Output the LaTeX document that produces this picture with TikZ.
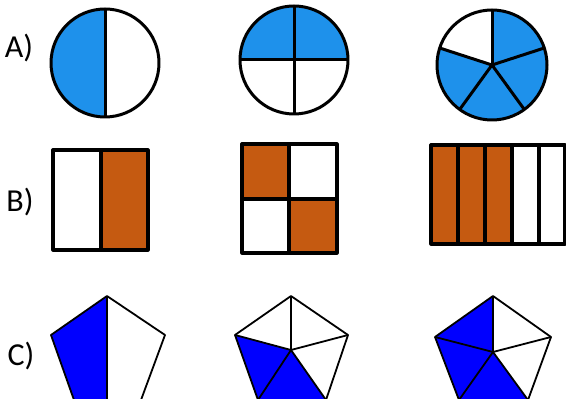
\documentclass[tikz,border=0pt]{standalone}
\usepackage{fontspec}
\setmainfont{Carlito}
\usepackage{tikz}
\usetikzlibrary{positioning}
\usepackage{xcolor}
\definecolor{skyblue}{RGB}{30,145,235}
\definecolor{rust}{RGB}{197,90,17}
\definecolor{deepblue}{RGB}{0,0,255}

\begin{document}
\begin{tikzpicture}[x=1pt, y=1pt, line join=round,
  disc/.style={draw=black, line width=3pt},
  box/.style={draw=black, line width=3.2pt},
  penta/.style={draw=black, line width=1.8pt},
  tag/.style={font=\fontsize{32}{32}\selectfont, inner sep=0pt}]
  \useasboundingbox (0,0) rectangle (566,399);

  % Define nodes
  \node[tag] (A) at (19,351) {A)};
  \node[tag] (B) at (20,197) {B)};
  \node[tag] (C) at (21,43) {C)};

  % Circles
  \coordinate (half) at (105,336);
  \coordinate (quart) at (294,339);
  \coordinate (pie) at (492,334);
  \fill[skyblue] (half) ++(90:54) arc (90:270:54) -- cycle;
  \draw[disc] (half) ++(0,54) -- ++(0,-108);
  \draw[disc] (half) circle (54);
  \fill[skyblue] (quart) ++(180:54) arc (180:0:54) -- cycle;
  \draw[disc] (quart) ++(-54,0) -- ++(108,0);
  \draw[disc] (quart) ++(0,54) -- ++(0,-108);
  \draw[disc] (quart) circle (54);
  \fill[skyblue] (pie) -- ++(90:55) arc (90:-198:55) -- cycle;
  \foreach \a in {90,18,-54,-126,162}
    \draw[disc] (pie) -- ++(\a:55);
  \draw[disc] (pie) circle (55);

  % Rectangles
  \fill[rust] (101,149) rectangle (148,249);
  \draw[box] (53,149) rectangle (148,249);
  \draw[box] (101,149) -- (101,249);
  \fill[rust] (242,200) rectangle (289,255);
  \fill[rust] (289,146) rectangle (337,200);
  \draw[box] (242,146) rectangle (337,255);
  \draw[box] (289,146) -- (289,255);
  \draw[box] (242,200) -- (337,200);
  \fill[rust] (431,155) rectangle (512,254);
  \draw[box] (431,155) rectangle (565,254);
  \foreach \x in {458,485,512,539}
    \draw[box] (\x,155) -- (\x,254);

  % Pentagons (bottom edge runs off the page)
  \coordinate (p1t) at (107,103);  \coordinate (p1l) at (51,64);
  \coordinate (p1r) at (165,64);   \coordinate (p1a) at (74,-1);
  \coordinate (p1b) at (141,-1);   \coordinate (p1m) at (107,-1);
  \fill[deepblue] (p1t) -- (p1l) -- (p1a) -- (p1m) -- cycle;
  \draw[penta] (p1t) -- (p1l) -- (p1a) -- (p1b) -- (p1r) -- cycle;
  \draw[penta] (p1t) -- (p1m);

  \coordinate (p2t) at (291,103);  \coordinate (p2l) at (235,64);
  \coordinate (p2r) at (348,64);   \coordinate (p2a) at (258,-1);
  \coordinate (p2b) at (326,-1);   \coordinate (p2c) at (291,49);
  \fill[deepblue] (p2c) -- (p2l) -- (p2a) -- (p2b) -- cycle;
  \draw[penta] (p2t) -- (p2l) -- (p2a) -- (p2b) -- (p2r) -- cycle;
  \foreach \v in {p2t,p2l,p2a,p2b,p2r}
    \draw[penta] (p2c) -- (\v);

  \coordinate (p3t) at (493,103);  \coordinate (p3l) at (435,62);
  \coordinate (p3r) at (551,62);   \coordinate (p3a) at (459,-1);
  \coordinate (p3b) at (528,-1);   \coordinate (p3c) at (493,47);
  \fill[deepblue] (p3c) -- (p3t) -- (p3l) -- (p3a) -- (p3b) -- cycle;
  \draw[penta] (p3t) -- (p3l) -- (p3a) -- (p3b) -- (p3r) -- cycle;
  \foreach \v in {p3t,p3l,p3a,p3b,p3r}
    \draw[penta] (p3c) -- (\v);
\end{tikzpicture}
\end{document}
